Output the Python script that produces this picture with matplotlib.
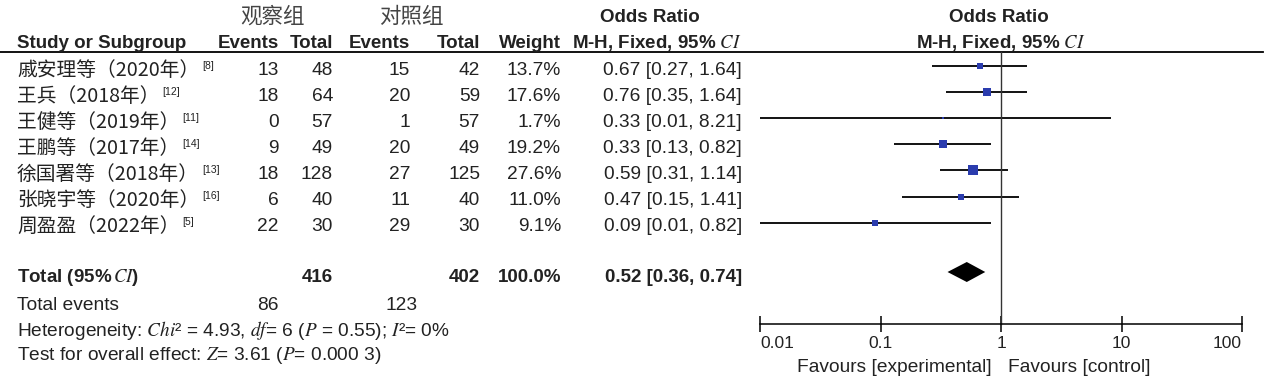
import matplotlib
matplotlib.use("Agg")
import matplotlib.pyplot as plt
import numpy as np

plt.rcParams['mathtext.fontset'] = 'stix'

# --- data ---
studies = ["戚安理等（2020年）", "王兵（2018年）", "王健等（2019年）", "王鹏等（2017年）",
           "徐国署等（2018年）", "张晓宇等（2020年）", "周盈盈（2022年）"]
refs = ["[8]", "[12]", "[11]", "[14]", "[13]", "[16]", "[5]"]
exp_events = [13, 18, 0, 9, 18, 6, 22]
exp_total = [48, 64, 57, 49, 128, 40, 30]
ctl_events = [15, 20, 1, 20, 27, 11, 29]
ctl_total = [42, 59, 57, 49, 125, 40, 30]
weights = [13.7, 17.6, 1.7, 19.2, 27.6, 11.0, 9.1]
or_vals = [0.67, 0.76, 0.33, 0.33, 0.59, 0.47, 0.09]
ci_low = [0.27, 0.35, 0.01, 0.13, 0.31, 0.15, 0.01]
ci_high = [1.64, 1.64, 8.21, 0.82, 1.14, 1.41, 0.82]

total_or, total_low, total_high = 0.52, 0.36, 0.74
total_weight = 100.0
exp_sum_total, ctl_sum_total = 416, 402
exp_sum_events, ctl_sum_events = 86, 123

x_ticks = [0.01, 0.1, 1, 10, 100]
x_ticklabels = ["0.01", "0.1", "1", "10", "100"]

# --- layout ---
LAT = "Liberation Sans"
CJK = ["Noto Sans CJK SC", "DejaVu Sans"]
FS = 13.8     # regular text
FSB = 13.5    # bold text
TXT = "#222222"
BLUE = "#2b3cae"

fig = plt.figure(figsize=(12.67, 3.92), dpi=100)
ax = fig.add_axes([0, 0, 1, 1])
ax.set_xlim(0, 1267)
ax.set_ylim(392, 0)
ax.axis("off")

fax = fig.add_axes([760 / 1267, 0, (1242 - 760) / 1267, 1], zorder=3)
fax.patch.set_alpha(0)
fax.set_xscale("log")
fax.set_xlim(0.01, 100)
fax.set_ylim(392, 0)
for s in ["top", "left", "right"]:
    fax.spines[s].set_visible(False)
fax.spines["bottom"].set_position(("data", 324))
fax.spines["bottom"].set_linewidth(1.1)
fax.set_yticks([])
fax.set_xticks(x_ticks)
tlabels = fax.set_xticklabels(x_ticklabels, fontfamily=LAT, fontsize=12.5, color=TXT)
tlabels[0].set_ha("left")
tlabels[-1].set_ha("right")
fax.xaxis.set_minor_locator(matplotlib.ticker.NullLocator())
fax.tick_params(axis="x", direction="inout", length=11, width=1.1, pad=3)


def t(x, y, s, ha="left", bold=False, size=None, family=LAT, color=TXT, **kw):
    if size is None:
        size = FSB if bold else FS
    return ax.text(x, y, s, ha=ha, va="center", fontsize=size, fontfamily=family,
                   fontweight="bold" if bold else "normal", color=color, **kw)


# headers
t(272, 17, "观察组", ha="center", family=CJK, size=15.5, color="#444444")
t(411, 17, "对照组", ha="center", family=CJK, size=15.5, color="#444444")
t(650, 17, "Odds Ratio", ha="center", bold=True)
t(999, 17, "Odds Ratio", ha="center", bold=True)
t(17, 43, "Study or Subgroup", bold=True)
t(279, 43, "Events", ha="right", bold=True)
t(333, 43, "Total", ha="right", bold=True)
t(410, 43, "Events", ha="right", bold=True)
t(480, 43, "Total", ha="right", bold=True)
t(561, 43, "Weight", ha="right", bold=True)
t(742, 43, r"M-H, Fixed, 95% $CI$", ha="right", bold=True)
t(1001, 43, r"M-H, Fixed, 95% $CI$", ha="center", bold=True)
ax.plot([0, 1263], [52, 52], color="black", lw=1.3)

# study rows
row_y = 70 + 26.1 * np.arange(len(studies))
for i, y in enumerate(row_y):
    name = t(17, y, studies[i], family=CJK, size=14.2)
    ax.annotate(refs[i], xy=(1, 1), xycoords=name, xytext=(2, -1), textcoords="offset points",
                ha="left", va="top", fontsize=7.5, fontfamily=LAT, color=TXT)
    t(279, y, str(exp_events[i]), ha="right")
    t(333, y, str(exp_total[i]), ha="right")
    t(410, y, str(ctl_events[i]), ha="right")
    t(480, y, str(ctl_total[i]), ha="right")
    t(561, y, f"{weights[i]:.1f}%", ha="right")
    t(742, y, f"{or_vals[i]:.2f} [{ci_low[i]:.2f}, {ci_high[i]:.2f}]", ha="right")

    ly = y - 4
    fax.plot([ci_low[i], ci_high[i]], [ly, ly], color="black", lw=1.3, solid_capstyle="butt")
    side = 1.85 * np.sqrt(weights[i])
    fax.plot(or_vals[i], ly, marker="s", ms=side * 0.72, mfc=BLUE, mec=BLUE, mew=0, ls="none")

# total
ty = 277
t(17, ty, r"Total (95%$\,CI$)", bold=True)
t(333, ty, str(exp_sum_total), ha="right", bold=True)
t(480, ty, str(ctl_sum_total), ha="right", bold=True)
t(561, ty, f"{total_weight:.1f}%", ha="right", bold=True)
t(742, ty, f"{total_or:.2f} [{total_low:.2f}, {total_high:.2f}]", ha="right", bold=True)
dy = ty - 5
fax.fill([total_low, total_or, total_high, total_or], [dy, dy - 10, dy, dy + 10],
         color="black", lw=0)

t(17, 305, "Total events")
t(279, 305, str(exp_sum_events), ha="right")
t(418, 305, str(ctl_sum_events), ha="right")
t(17, 331, r"Heterogeneity: $Chi$² = 4.93, $df$= 6 ($P$ = 0.55); $I$²= 0%")
t(17, 356, r"Test for overall effect: $Z$= 3.61 ($P$= 0.000 3)")

# reference line at 1
fax.plot([1, 1], [52, 324], color="#333333", lw=1.0)

fax.text(0.83, 367, "Favours [experimental]", ha="right", va="center", fontsize=FS,
         fontfamily=LAT, color=TXT)
fax.text(1.15, 367, "Favours [control]", ha="left", va="center", fontsize=FS,
         fontfamily=LAT, color=TXT)

fig.savefig("out.png", dpi=100)
